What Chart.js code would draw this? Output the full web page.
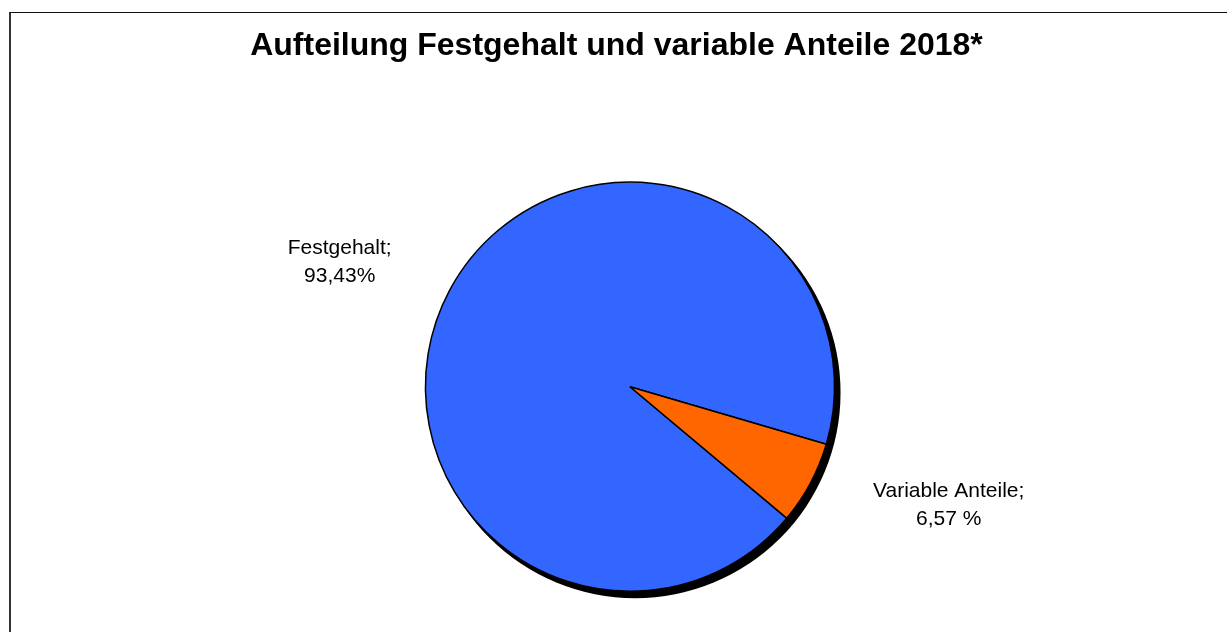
<!DOCTYPE html>
<html>
<head>
<meta charset="utf-8">
<script src="https://cdn.jsdelivr.net/npm/chart.js@4"></script>
<style>
  body { margin: 0; background: #fff; }
  #frame {
    position: absolute; left: 9px; top: 12px;
    width: 1216px; height: 640px;
    border-left: 2px solid #333; border-top: 1px solid #111; border-right: 1px solid #e6e6e6;
  }
  #chartBox { position: absolute; left: 0; top: 0; width: 1216px; height: 619px; }
</style>
</head>
<body>
<div id="frame"><div id="chartBox"><canvas id="pieChart"></canvas></div></div>
<script>
// Daten
const categories = ['Festgehalt', 'Variable Anteile'];
const shares = [93.43, 6.57];
const shareLabels = ['93,43%', '6,57 %'];
const sliceColors = ['#3366FF', '#FF6600'];
const chartTitle = 'Aufteilung Festgehalt und variable Anteile 2018*';

// Schatten unter dem Kreis (unten rechts)
const shadowPlugin = {
  id: 'pieShadow',
  beforeDatasetsDraw(chart) {
    const arc = chart.getDatasetMeta(0).data[0];
    if (!arc) return;
    const ctx = chart.ctx;
    ctx.save();
    ctx.fillStyle = '#000';
    ctx.beginPath();
    ctx.arc(arc.x + 5, arc.y + 6, arc.outerRadius + 1, 0, Math.PI * 2);
    ctx.fill();
    ctx.restore();
  }
};

// Titel (etwas links von der Kreismitte, wie im Original)
const titlePlugin = {
  id: 'plainTitle',
  afterDraw(chart, args, opts) {
    const ctx = chart.ctx;
    ctx.save();
    ctx.font = 'bold 32px "Liberation Sans", Arial, sans-serif';
    ctx.fillStyle = '#000';
    ctx.textAlign = 'center';
    ctx.textBaseline = 'middle';
    ctx.fillText(chartTitle, opts.x, opts.y);
    ctx.restore();
  }
};

// Beschriftungen ausserhalb der Segmente
const outsideLabels = {
  id: 'outsideLabels',
  afterDatasetsDraw(chart, args, opts) {
    const ctx = chart.ctx;
    const meta = chart.getDatasetMeta(0);
    ctx.save();
    ctx.font = '21px "Liberation Sans", Arial, sans-serif';
    ctx.fillStyle = '#000';
    ctx.textAlign = 'center';
    ctx.textBaseline = 'middle';
    meta.data.forEach((arc, i) => {
      const p = opts.place[i];
      const mid = (arc.startAngle + arc.endAngle) / 2 + p.turn * Math.PI / 180;
      const x = arc.x + Math.cos(mid) * arc.outerRadius * p.dist;
      const y = arc.y + Math.sin(mid) * arc.outerRadius * p.dist;
      ctx.fillText(categories[i] + ';', x, y - 14);
      ctx.fillText(shareLabels[i], x, y + 14);
    });
    ctx.restore();
  }
};

const ctx = document.getElementById('pieChart').getContext('2d');
new Chart(ctx, {
  type: 'pie',
  data: {
    labels: categories,
    datasets: [{
      data: shares,
      backgroundColor: sliceColors,
      borderColor: '#000',
      borderWidth: 1.5
    }]
  },
  plugins: [shadowPlugin, outsideLabels, titlePlugin],
  options: {
    responsive: true,
    maintainAspectRatio: false,
    animation: false,
    rotation: 130,
    layout: { padding: { left: 222, right: 200, top: 168.4, bottom: 40 } },
    plugins: {
      legend: { display: false },
      tooltip: { enabled: false },
      title: { display: false },
      plainTitle: { x: 605.5, y: 33.5 },
      outsideLabels: {
        place: [{ dist: 1.545, turn: -4.9 }, { dist: 1.662, turn: -7.8 }]
      }
    }
  }
});
</script>
</body>
</html>
